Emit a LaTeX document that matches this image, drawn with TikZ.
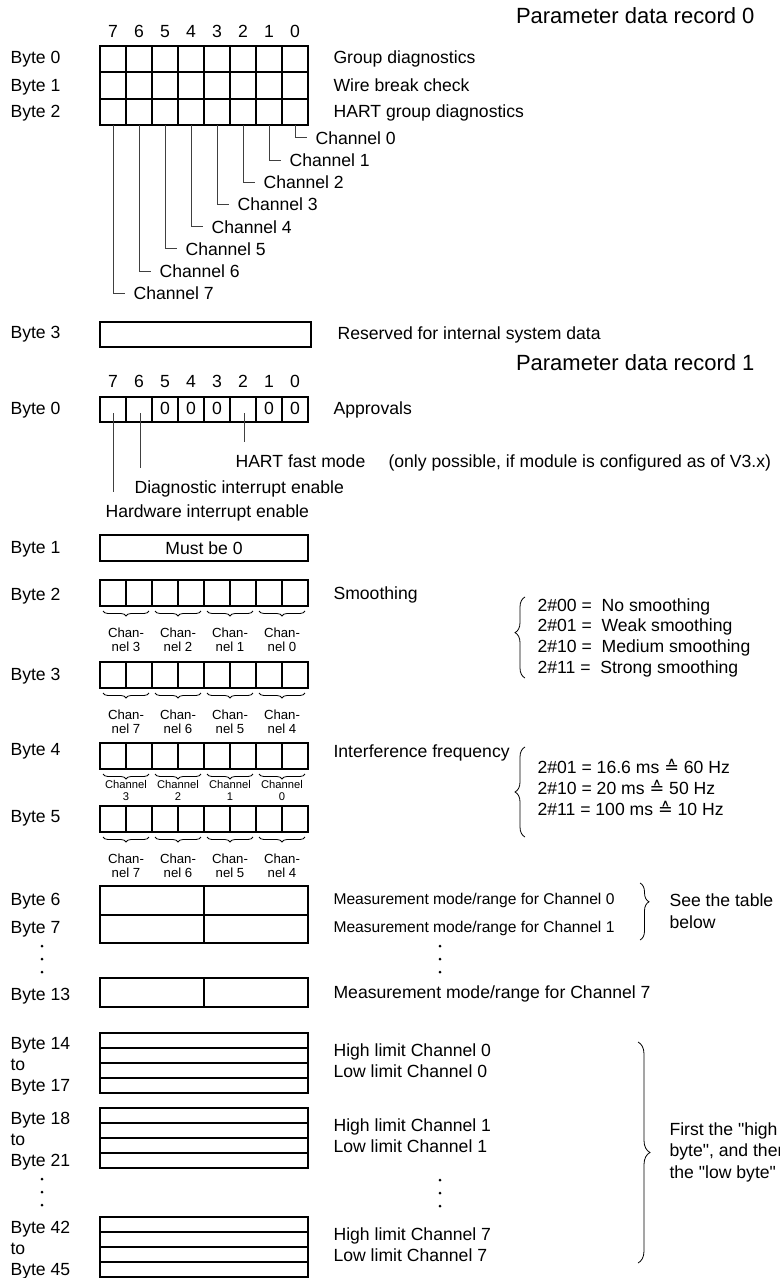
\documentclass[tikz,border=0pt]{standalone}
\usepackage{fontspec}
\setmainfont{Liberation Sans}
\newfontfamily\symfont{DejaVu Sans}
\usepackage{tikz}
\usetikzlibrary{calc, decorations.pathreplacing}

\newcommand{\fnorm}{\fontsize{8.8}{10.5}\selectfont}
\newcommand{\fsmall}{\fontsize{7.8}{9}\selectfont}
\newcommand{\fchan}{\fontsize{6.6}{7.5}\selectfont}
\newcommand{\ftiny}{\fontsize{5.6}{6.5}\selectfont}
\newcommand{\ftitle}{\fontsize{11}{13}\selectfont}
\newcommand{\corr}{{\symfont ≙}}
\newcommand{\dq}{\textquotedbl}

\tikzset{
  txt/.style={anchor=base west, inner sep=0pt, font=\fnorm},
  smalltxt/.style={txt, font=\fsmall},
  title/.style={anchor=base east, inner sep=0pt, font=\ftitle},
  bitnum/.style={anchor=base, inner sep=0pt, font=\fnorm},
  chanlbl/.style={anchor=west, inner xsep=4pt, inner ysep=0pt, font=\fnorm},
  pairlbl/.style={anchor=base, inner sep=0pt, font=\fchan},
  lead/.style={line width=0.5pt, draw=black!75},
  wordbox/.style={draw, minimum width=104pt, minimum height=13pt, inner sep=0pt, font=\fnorm},
  brc/.style args={#1/#2}{decorate, decoration={brace, amplitude=#1, aspect=#2}, line width=0.4pt}
}

\begin{document}
\begin{tikzpicture}[x=0.5pt, y=-0.5pt, line width=0.55pt]
    \useasboundingbox (0,0) rectangle (780,1278);

    % Parameter data record 0
    \node[title] (rec0) at (755,24) {Parameter data record 0};
    \foreach \b in {0,...,7}
        \node[bitnum] (r0b\b) at ({295-26*\b},38) {\b};
    \draw (100,46) rectangle (308,125);
    \foreach \y in {72,99} \draw (100,\y) -- (308,\y);
    \foreach \k in {1,...,7} \draw ({100+26*\k},46) -- ({100+26*\k},125);
    \node[txt] (r0y0) at (10,64) {Byte 0};
    \node[txt] (r0y1) at (10,92) {Byte 1};
    \node[txt] (r0y2) at (10,118) {Byte 2};
    \node[txt] (grpdiag) at (333,64) {Group diagnostics};
    \node[txt] (wirebrk) at (333,92) {Wire break check};
    \node[txt] (hartdiag) at (333,118) {HART group diagnostics};

    % Kanal-Zuordnung
    \foreach \i in {0,...,7} {
        \coordinate (c\i) at ({295-26*\i},125);
        \node[chanlbl] (ch\i) at ({307-26*\i},{138+22.2*\i}) {Channel \i};
        \draw[lead] (c\i) |- (ch\i.west);
    }

    % Byte 3
    \node[txt] (r0y3) at (10,339) {Byte 3};
    \draw (100,322) rectangle (311,347);
    \node[txt] (resv) at (337,340) {Reserved for internal system data};

    % Parameter data record 1
    \node[title] (rec1) at (755,371) {Parameter data record 1};
    \foreach \b in {0,...,7}
        \node[bitnum] (r1b\b) at ({295-26*\b},387) {\b};
    \draw (100,397) rectangle (308,422);
    \foreach \k in {1,...,7} \draw ({100+26*\k},397) -- ({100+26*\k},422);
    \foreach \b in {5,4,3,1,0}
        \node[bitnum] (z\b) at ({295-26*\b},414) {0};
    \node[txt] (r1y0) at (10,414) {Byte 0};
    \node[txt] (approv) at (333,414) {Approvals};

    % Freigaben
    \coordinate (f7) at (113,413);
    \coordinate (f6) at (140,413);
    \coordinate (f2) at (244,413);
    \node[txt] (hart) at (235,467) {HART fast mode};
    \node[txt] (hartnote) at (388,467) {(only possible, if module is configured as of V3.x)};
    \node[txt] (diag) at (134,493) {Diagnostic interrupt enable};
    \node[txt] (hwint) at (105,517) {Hardware interrupt enable};
    \draw[lead] (f2) -- ($(f2 |- hart.north)+(0,-12)$);
    \draw[lead] (f6) -- ($(f6 |- diag.north)+(0,-12)$);
    \draw[lead] (f7) -- ($(f7 |- hwint.north)+(0,-12)$);

    % Byte 1
    \node[txt] (r1y1) at (10,553) {Byte 1};
    \node[wordbox] (must) at (204,548) {Must be 0};

    % Byte 2 bis 5
    \foreach \t/\n/\l in {580/2/600, 662/3/680, 743/4/755, 806/5/822} {
        \node[txt] (r1y\n) at (10,\l) {Byte \n};
        \draw (100,\t) rectangle (308,{\t+26});
        \foreach \k in {1,...,7} \draw ({100+26*\k},\t) -- ({100+26*\k},{\t+26});
        \foreach \k in {0,...,3}
            \draw[brc=2.5pt/0.5] ({149+52*\k},{\t+31}) -- ({103+52*\k},{\t+31});
    }
    \foreach \t/\s in {580/0, 662/4, 806/4} {
        \foreach \k in {0,...,3} {
            \pgfmathtruncatemacro{\ch}{\s+3-\k}
            \node[pairlbl] (pa\t\k) at ({126+52*\k},{\t+57}) {Chan-};
            \node[pairlbl] (pb\t\k) at ({126+52*\k},{\t+71}) {nel \ch};
        }
    }
    \foreach \k in {0,...,3} {
        \pgfmathtruncatemacro{\ch}{3-\k}
        \node[pairlbl, font=\ftiny] (qa\k) at ({126+52*\k},788) {Channel};
        \node[pairlbl, font=\ftiny] (qb\k) at ({126+52*\k},800) {\ch};
    }

    % Glaettung
    \node[txt] (smooth) at (333,599) {Smoothing};
    \foreach \v [count=\k from 0] in {{2\#00 = \ No smoothing}, {2\#01 = \ Weak smoothing},
            {2\#10 = \ Medium smoothing}, {2\#11 = \ Strong smoothing}}
        \node[txt] (sv\k) at (537,{611+20.7*\k}) {\v};
    \draw[brc=5pt/0.56] (525,678) -- (525,597);

    % Stoerfrequenz
    \node[txt] (intf) at (333,757) {Interference frequency};
    \node[txt] (iv0) at (537,773) {2\#01 = 16.6 ms \corr{} 60 Hz};
    \node[txt] (iv1) at (537,794) {2\#10 = 20 ms \corr{} 50 Hz};
    \node[txt] (iv2) at (537,815) {2\#11 = 100 ms \corr{} 10 Hz};
    \draw[brc=5pt/0.5] (525,837) -- (525,747);

    % Messart/Messbereich
    \node[txt] (r1y6) at (10,905) {Byte 6};
    \node[txt] (r1y7) at (10,933) {Byte 7};
    \draw (100,886) rectangle (308,943);
    \draw (100,915) -- (308,915);
    \draw (204,886) -- (204,943);
    \node[smalltxt] (mode0) at (333,904) {Measurement mode/range for Channel 0};
    \node[smalltxt] (mode1) at (333,932) {Measurement mode/range for Channel 1};
    \draw[brc=4.5pt/0.33] (640,883) -- (640,940);
    \node[txt] (seetab) at (669,906) {See the table};
    \node[txt] (seebel) at (669,928) {below};
    \foreach \y in {946,959,972} {
        \fill (42,\y) circle (0.75pt);
        \fill (440,\y) circle (0.75pt);
    }
    \node[txt] (r1y13) at (10,1000) {Byte 13};
    \draw (100,978) rectangle (308,1007);
    \draw (204,978) -- (204,1007);
    \node[txt] (mode7) at (333,998) {Measurement mode/range for Channel 7};

    % Grenzwerte
    \foreach \t/\a/\b/\c in {1033/14/17/0, 1108/18/21/1, 1217/42/45/7} {
        \draw (100,\t) rectangle (308,{\t+60});
        \foreach \r in {1,2,3} \draw (100,{\t+15*\r}) -- (308,{\t+15*\r});
        \node[txt] (bs\a) at (10,{\t+16}) {Byte \a};
        \node[txt] (to\a) at (10,{\t+37}) {to};
        \node[txt] (be\a) at (10,{\t+58}) {Byte \b};
        \node[txt] (hi\c) at (333,{\t+23}) {High limit Channel \c};
        \node[txt] (lo\c) at (333,{\t+44}) {Low limit Channel \c};
    }
    \foreach \y in {1179,1192,1205} {
        \fill (42,\y) circle (0.75pt);
        \fill (440,{\y+1}) circle (0.75pt);
    }
    \draw[brc=6pt/0.5] (638,1042) -- (638,1263);
    \node[txt] (hb0) at (669,1135) {First the \dq high};
    \node[txt] (hb1) at (669,1156) {byte\dq, and then};
    \node[txt] (hb2) at (669,1178) {the \dq low byte\dq};
\end{tikzpicture}
\end{document}
